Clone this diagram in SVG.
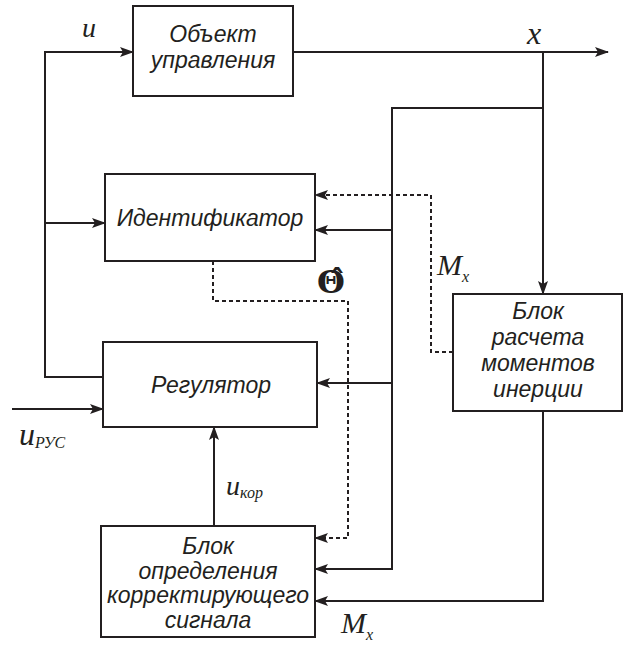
<svg xmlns="http://www.w3.org/2000/svg" width="624" height="648" viewBox="0 0 624 648">
<defs>
<marker id="ah" markerWidth="14" markerHeight="10" refX="13" refY="5" orient="auto" markerUnits="userSpaceOnUse">
<path d="M0,0 L14,5 L0,10 L3,5 z" fill="#231f20"/>
</marker>
<style>
.box{fill:#fff;stroke:#231f20;stroke-width:2}
.ln{fill:none;stroke:#231f20;stroke-width:2}
.dl{fill:none;stroke:#231f20;stroke-width:2;stroke-dasharray:4 3}
.t{font-family:"Liberation Sans",Arial,sans-serif;font-style:italic;font-size:23px;fill:#231f20;text-anchor:middle}
.m{font-family:"Liberation Serif","Times New Roman",serif;font-style:italic;fill:#231f20}
</style>
</defs>
<g id="connectors">
<path class="ln" d="M103,377 H45 V52 H133" marker-end="url(#ah)"/>
<path class="ln" d="M45,223 H105" marker-end="url(#ah)"/>
<path class="ln" d="M12,409 H103" marker-end="url(#ah)"/>
<path class="ln" d="M293,52 H608" marker-end="url(#ah)"/>
<path class="ln" d="M543,52 V294" marker-end="url(#ah)"/>
<path class="ln" d="M543,108 H392 V569 H315" marker-end="url(#ah)"/>
<path class="ln" d="M392,230 H315" marker-end="url(#ah)"/>
<path class="ln" d="M392,383 H317" marker-end="url(#ah)"/>
<path class="dl" d="M453,352 H431 V195 H315" marker-end="url(#ah)"/>
<path class="dl" d="M213,261 V301 H348 V538 H315" marker-end="url(#ah)"/>
<path class="ln" d="M214,526 V427" marker-end="url(#ah)"/>
<path class="ln" d="M543,411 V601 H315" marker-end="url(#ah)"/>
</g>
<g id="object">
<rect class="box" x="133" y="6" width="160" height="90"/>
<text class="t" x="213" y="42">Объект</text>
<text class="t" x="213" y="68">управления</text>
</g>
<g id="identifier">
<rect class="box" x="105" y="174" width="210" height="87"/>
<text class="t" x="210" y="226" font-size="24">Идентификатор</text>
</g>
<g id="regulator">
<rect class="box" x="103" y="342" width="214" height="85"/>
<text class="t" x="211" y="393" font-size="25">Регулятор</text>
</g>
<g id="inertia">
<rect class="box" x="453" y="294" width="169" height="117"/>
<text class="t" x="538" y="319">Блок</text>
<text class="t" x="538" y="345">расчета</text>
<text class="t" x="538" y="371">моментов</text>
<text class="t" x="538" y="397">инерции</text>
</g>
<g id="correction">
<rect class="box" x="101" y="526" width="214" height="111"/>
<text class="t" x="208" y="554" font-size="22">Блок</text>
<text class="t" x="208" y="579" font-size="22">определения</text>
<text class="t" x="208" y="603" font-size="22">корректирующего</text>
<text class="t" x="208" y="628" font-size="22">сигнала</text>
</g>
<g id="labels">
<text class="m" x="82" y="37" font-size="28">u</text>
<text class="m" x="527" y="44" font-size="32">x</text>
<text class="m" x="19" y="445" font-size="32">u<tspan font-size="16" dy="3">РУС</tspan></text>
<text class="m" x="226" y="495" font-size="28">u<tspan font-size="16" dy="3">кор</tspan></text>
<text class="m" x="437" y="275" font-size="30">M<tspan font-size="16" dy="7">x</tspan></text>
<text class="m" x="341" y="633" font-size="30">M<tspan font-size="16" dy="7">x</tspan></text>
<text x="331" y="293" font-family="DejaVu Serif, serif" font-weight="bold" font-size="32" text-anchor="middle" fill="#231f20">Θ̂</text>
</g>
</svg>
